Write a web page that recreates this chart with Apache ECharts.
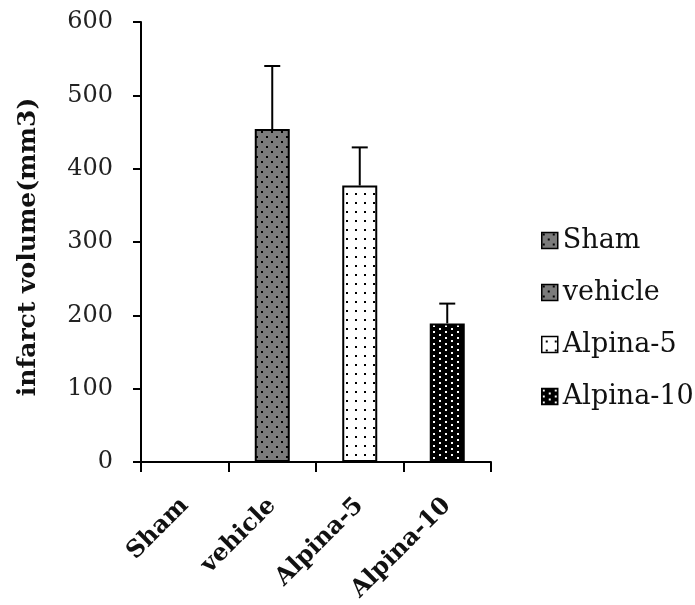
<!DOCTYPE html>
<html>
<head>
<meta charset="utf-8">
<script src="https://cdn.jsdelivr.net/npm/echarts@6/dist/echarts.min.js"></script>
<style>
html,body{margin:0;padding:0;background:#fff;}
#c{width:695px;height:605px;}
</style>
</head>
<body>
<div id="c"></div>
<script>
const categories = ['Sham', 'vehicle', 'Alpina-5', 'Alpina-10'];
const means = [0, 454, 377, 189];
const errors = [0, 86, 52, 27];
const yMin = 0, yMax = 600, yInterval = 100;
const axisTitle = 'infarct volume(mm3)';

function makePattern(bg, fg, w, h, dots, size) {
  const c = document.createElement('canvas');
  c.width = w; c.height = h;
  const ctx = c.getContext('2d');
  ctx.fillStyle = bg; ctx.fillRect(0, 0, w, h);
  ctx.fillStyle = fg;
  dots.forEach(d => ctx.fillRect(d[0], d[1], size, size));
  return { image: c, repeat: 'repeat' };
}

const patterns = [
  makePattern('#7b7b7b', '#000', 10, 10, [[1, 1], [6, 6]], 2),
  makePattern('#7b7b7b', '#000', 10, 10, [[1, 1], [6, 6]], 2),
  makePattern('#ffffff', '#000', 9, 9, [[4, 4]], 2),
  makePattern('#000000', '#fff', 12, 6, [[1, 1], [7, 4]], 2)
];

const barSeries = categories.map((name, i) => ({
  name: name,
  type: 'bar',
  barWidth: 35,
  barGap: '-100%',
  data: categories.map((c, j) => (j === i ? means[j] : '-')),
  itemStyle: { color: patterns[i], borderColor: '#000', borderWidth: 2 },
  z: 2
}));

const errSeries = {
  type: 'custom',
  name: 'err',
  z: 3,
  data: categories.map((c, i) => [i, means[i], errors[i]]),
  renderItem: function (params, api) {
    const idx = api.value(0), m = api.value(1), e = api.value(2);
    if (!e) return null;
    const p0 = api.coord([idx, m]);
    const p1 = api.coord([idx, m + e]);
    const half = 8;
    return {
      type: 'group',
      children: [
        { type: 'line', shape: { x1: p0[0], y1: p0[1], x2: p1[0], y2: p1[1] }, style: { stroke: '#000', lineWidth: 2 } },
        { type: 'line', shape: { x1: p1[0] - half, y1: p1[1], x2: p1[0] + half, y2: p1[1] }, style: { stroke: '#000', lineWidth: 2 } }
      ]
    };
  }
};

const chart = echarts.init(document.getElementById('c'), null, { renderer: 'canvas' });
chart.setOption({
  backgroundColor: '#fff',
  animation: false,
  grid: { left: 141, right: 204, top: 22, bottom: 143, containLabel: false },
  legend: {
    orient: 'vertical',
    left: 541,
    top: 227,
    padding: 0,
    itemGap: 25,
    itemWidth: 16,
    itemHeight: 16,
    icon: 'rect',
    data: categories,
    textStyle: { fontFamily: 'DejaVu Serif', fontSize: 27, lineHeight: 26, color: '#111' },
    itemStyle: { borderColor: '#000', borderWidth: 1.5 }
  },
  xAxis: {
    type: 'category',
    data: categories,
    boundaryGap: true,
    axisLine: { lineStyle: { color: '#000', width: 2 } },
    axisTick: { show: true, length: 10, lineStyle: { color: '#000', width: 2 } },
    axisLabel: {
      interval: 0, rotate: 45, margin: 40,
      fontFamily: 'DejaVu Serif', fontWeight: 'bold', fontSize: 24, color: '#111'
    },
    splitLine: { show: false }
  },
  yAxis: {
    type: 'value',
    min: yMin, max: yMax, interval: yInterval,
    name: axisTitle,
    nameLocation: 'middle',
    nameGap: 100,
    nameTextStyle: { fontFamily: 'DejaVu Serif', fontWeight: 'bold', fontSize: 25, color: '#111', padding: [0, 10, 0, 0] },
    axisLine: { show: true, lineStyle: { color: '#000', width: 2 } },
    axisTick: { show: true, length: 8, lineStyle: { color: '#000', width: 2 } },
    axisLabel: { margin: 28, fontFamily: 'DejaVu Serif', fontSize: 24, color: '#222' },
    splitLine: { show: false }
  },
  series: barSeries.concat([errSeries])
});
</script>
</body>
</html>
